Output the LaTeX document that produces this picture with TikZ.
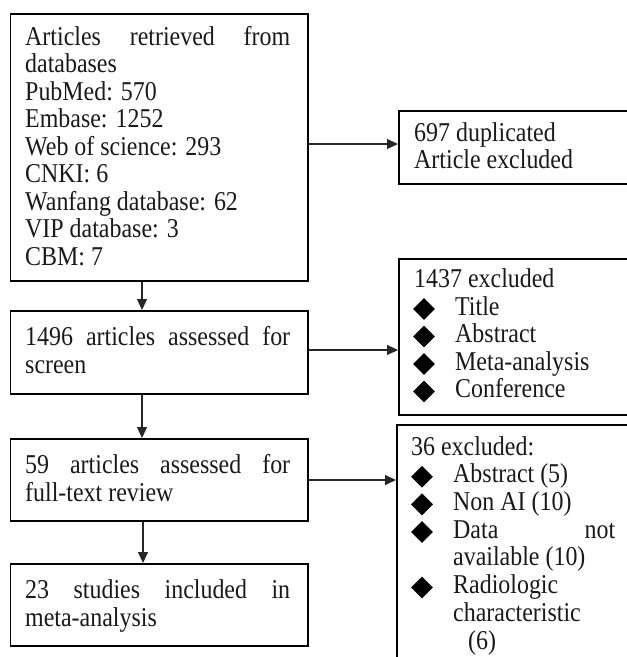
\documentclass[tikz,border=0pt]{standalone}
\usepackage{fontspec}
\setmainfont{Liberation Serif}[FakeStretch=0.88]
\usetikzlibrary{arrows.meta,shapes.geometric}
\begin{document}
\begin{tikzpicture}[x=1pt,y=-1pt,
  box/.style={draw,line width=1.8pt,rectangle,inner sep=0pt,anchor=north west},
  conn/.style={draw=black!85,line width=1.1pt,-{Triangle[length=11pt,width=10pt]}},
  txt/.style={anchor=base west,inner sep=0pt,text height=16pt,text depth=4pt,text=black!90,font=\fontsize{27.2}{27.5}\selectfont},
  bul/.style={diamond,fill=black,draw=none,inner sep=0pt,minimum width=22pt,minimum height=22pt}]
\useasboundingbox (0,0) rectangle (627,657);
\clip (0,0) rectangle (627,657);
% left column boxes
\node[box,minimum width=297.5pt,minimum height=267pt] (B1) at (9.5,13) {};
\node[box,minimum width=297.5pt,minimum height=83pt] (B2) at (9.5,310) {};
\node[box,minimum width=297.5pt,minimum height=82pt] (B3) at (9.5,438) {};
\node[box,minimum width=297.5pt,minimum height=82pt] (B4) at (9.5,563) {};
% right column boxes (cut by the right/bottom edge)
\node[box,minimum width=262pt,minimum height=73pt] (R1) at (398,110) {};
\node[box,minimum width=262pt,minimum height=156pt] (R2) at (398,258) {};
\node[box,minimum width=262pt,minimum height=276pt] (R3) at (396,424) {};
% texts, box 1
\node[txt] (t1a) at (25,45) {\makebox[265pt][s]{Articles retrieved from}};
\foreach \t [count=\i] in {databases,PubMed: 570,Embase: 1252,Web of science: 293,CNKI: 6,Wanfang database: 62,VIP database: 3,CBM: 7}
  \node[txt] (t1-\i) at (25,{45+27.5*\i}) {\t};
% box 2
\node[txt] (t2a) at (25,345) {\makebox[265pt][s]{1496 articles assessed for}};
\node[txt] (t2b) at (25,373) {screen};
% box 3
\node[txt] (t3a) at (25,473) {\makebox[265pt][s]{59 articles assessed for}};
\node[txt] (t3b) at (25,501) {full-text review};
% box 4
\node[txt] (t4a) at (25,598) {\makebox[265pt][s]{23 studies included in}};
\node[txt] (t4b) at (25,626) {meta-analysis};
% right box 1
\node[txt] (r1a) at (414,141.5) {697 duplicated};
\node[txt] (r1b) at (414,168.5) {Article excluded};
% right box 2
\node[txt] (r2a) at (414,287) {1437 excluded};
\foreach \t/\y [count=\i] in {Title/315,Abstract/342.5,Meta-analysis/370,Conference/397.5}{
  \node[bul] (r2d-\i) at (424,\y-6) {};
  \node[txt] (r2-\i) at (455,\y) {\t};
}
% right box 3
\node[txt] (r3a) at (411,455) {36 excluded:};
\node[bul] (r3d-1) at (422,476.7) {};
\node[txt] (r3-1) at (453,482.7) {Abstract (5)};
\node[bul] (r3d-2) at (422,504.4) {};
\node[txt] (r3-2) at (453,510.4) {Non AI (10)};
\node[bul] (r3d-3) at (422,532) {};
\node[txt] (r3-3) at (453,538) {\makebox[162pt][s]{Data not}};
\node[txt] (r3-4) at (453,565.8) {available (10)};
\node[bul] (r3d-5) at (422,587.5) {};
\node[txt] (r3-5) at (453,593.5) {Radiologic};
\node[txt] (r3-6) at (453,621) {characteristic};
\node[txt] (r3-7) at (468,649) {(6)};
% connectors
\coordinate (vx1) at (142,0);
\coordinate (vx2) at (143,0);
\coordinate (hy1) at (0,144);
\coordinate (hy2) at (0,350);
\coordinate (hy3) at (0,480);
\draw[conn] (B1.south -| vx1) -- (B2.north -| vx1);
\draw[conn] (B2.south -| vx1) -- (B3.north -| vx1);
\draw[conn] (B3.south -| vx2) -- (B4.north -| vx2);
\draw[conn] (B1.east |- hy1) -- (R1.west |- hy1);
\draw[conn] (B2.east |- hy2) -- (R2.west |- hy2);
\draw[conn] (B3.east |- hy3) -- (R3.west |- hy3);
\end{tikzpicture}
\end{document}
